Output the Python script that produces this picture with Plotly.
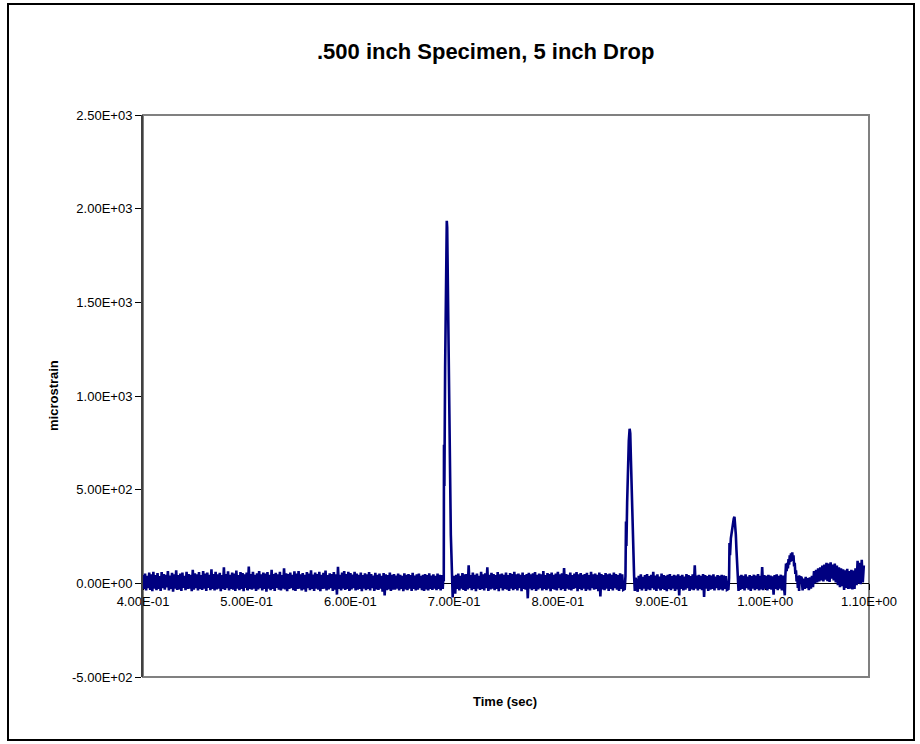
import plotly.graph_objects as go

# ---------------- data ----------------
noise_step = 0.001

noise_a_start = 0.400
noise_a = [45, -30, 52, -38, 40, -25, 58, -35, 48, -42,
           62, -28, 44, -36, 55, -30, 38, -40, 60, -26,
           50, -34, 46, -22, 65, -38, 42, -30, 56, -45,
           48, -28, 70, -35, 44, -32, 52, -40, 58, -24,
           40, -36, 62, -30, 50, -28, 46, -42, 72, -34,
           54, -26, 48, -38, 60, -30, 44, -35, 66, -28,
           52, -40, 58, -25, 45, -36, 75, -30, 50, -38,
           62, -32, 48, -28, 56, -42, 44, -30, 85, -35,
           50, -26, 64, -38, 46, -30, 58, -34, 52, -40,
           68, -28, 44, -36, 60, -30, 55, -42, 48, -25,
           57, -38, 90, -30, 50, -34, 62, -28, 46, -40,
           54, -32, 66, -26, 48, -38, 58, -30, 52, -44,
           60, -28, 45, -36, 72, -30, 50, -40, 56, -25,
           48, -34, 62, -38, 44, -28, 80, -32, 54, -42,
           50, -30, 58, -26, 46, -36, 64, -40, 52, -30,
           66, -28, 48, -38, 55, -32, 45, -44, 60, -26,
           52, -36, 70, -30, 47, -40, 58, -28, 50, -34,
           62, -42, 46, -30, 56, -28, 68, -38, 44, -32,
           54, -26, 50, -40, 60, -34, 48, -60, 88, -30,
           45, -38, 58, -28, 66, -35, 50, -30, 62, -40,
           55, -32, 47, -26, 62, -38, 52, -34, 46, -30,
           58, -42, 44, -28, 54, -36, 48, -30, 60, -38,
           50, -26, 42, -40, 56, -32, 46, -35, 52, -28,
           40, -44, 55, -65, 48, -36, 44, -32, 58, -40,
           46, -34, 50, -34, 42, -28, 52, -38, 45, -30,
           40, -42, 54, -32, 46, -36, 50, -28, 44, -40,
           56, -30, 42, -38, 48, -34, 52, -26, 40, -36,
           46, -40, 50, -32, 44, -38, 54, -30, 42, -35,
           48, -28, 40, -36, 52, -30, 45, -38, 44]

peak1_t = [0.6890, 0.6896, 0.6900, 0.6902, 0.6906, 0.6913, 0.6919, 0.6925, 0.6929, 0.6933, 0.6938,
           0.6944, 0.6950, 0.6956, 0.6962, 0.6968, 0.6974, 0.6980, 0.6986, 0.6992, 0.6998, 0.7004]
peak1_v = [-30, 35, 10, 740, 520, 1150, 1600, 1860, 1935, 1900, 1650,
           1250, 850, 550, 380, 260, 150, 20, -75, 35, -45, 40]

noise_b_start = 0.701
noise_b = [-55, 45, -30, 52, -38, 40, -28, 55, -35, 48,
           -40, 50, -32, 96, -26, 44, -36, 58, -30, 46,
           -42, 52, -28, 40, -35, 62, -30, 48, -38, 54,
           -26, 85, -40, 46, -32, 56, -28, 50, -36, 44,
           -30, 60, -42, 48, -26, 52, -38, 46, -30, 58,
           -34, 44, -40, 55, -28, 50, -36, 62, -30, 48,
           -38, 52, -26, 46, -42, 58, -30, 44, -34, 50,
           -80, 56, -28, 48, -36, 54, -30, 60, -40, 46,
           -32, 52, -26, 48, -38, 66, -30, 44, -36, 55,
           -28, 50, -42, 58, -30, 46, -34, 52, -38, 62,
           -26, 48, -36, 54, -30, 82, -40, 50, -28, 46,
           -34, 58, -38, 44, -30, 52, -26, 60, -42, 48,
           -30, 55, -36, 46, -28, 50, -40, 56, -32, 44,
           -38, 62, -26, 48, -34, 52, -30, 46, -42, 58,
           -70, 50, -32, 44, -36, 55, -28, 48, -40, 52,
           -30, 46, -38, 58, -26, 50, -34, 44, -40, 54,
           -30, 48, -35]

peak2_t = [0.8645, 0.8652, 0.8657, 0.8661, 0.8668, 0.8676, 0.8684, 0.8692, 0.8698, 0.8705,
           0.8712, 0.8720, 0.8728, 0.8735, 0.8742, 0.8750]
peak2_v = [-30, 40, 330, 200, 430, 620, 760, 825, 800, 650,
           480, 300, 150, 40, -40, 30]

noise_c_start = 0.877
noise_c = [-45, 40, -30, 48, -38, 35, -28, 44, -40, 50,
           -32, 38, -36, 46, -26, 62, -34, 42, -40, 48,
           -28, 36, -38, 52, -30, 44, -35, 40, -42, 46,
           -30, 50, -36, 38, -28, 45, -40, 42, -32, 48,
           -64, 40, -30, 46, -38, 36, -34, 50, -26, 44,
           -40, 38, -32, 48, -36, 96, -28, 42, -38, 46,
           -30, 40, -36, 50, -72, 44, -28, 38, -40, 46,
           -34, 42, -30, 48, -38, 36, -26, 44, -36, 40,
           -32, 46, -38, 42, -30, 38, -35]

peak3_t = [0.9645, 0.9651, 0.9655, 0.9660, 0.9668, 0.9678, 0.9688, 0.9696, 0.9703, 0.9710,
           0.9716, 0.9722, 0.9728, 0.9735, 0.9742, 0.9750, 0.9758]
peak3_v = [-30, 30, 215, 150, 240, 290, 320, 345, 355, 320,
           260, 180, 100, 30, -40, 40, -35]

noise_d_start = 0.977
noise_d = [45, -30, 40, -38, 48, -26, 36, -34, 44, -40,
           38, -28, 46, -36, 42, -30, 50, -38, 40, -32,
           87, -36, 44, -28, 40, -38, 46, -30, 42, -34,
           38, -60, 44, -30, 48, -36, 40, -28, 46, -38,
           42]

peak4_t = [1.0188, 1.0194, 1.0200, 1.0206, 1.0212, 1.0218, 1.0224, 1.0230, 1.0236, 1.0242,
           1.0248, 1.0254, 1.0260, 1.0266, 1.0272, 1.0278, 1.0284, 1.0290, 1.0296, 1.0302,
           1.0308, 1.0314, 1.0320, 1.0326, 1.0332]
peak4_v = [-64, 45, 105, 65, 110, 80, 130, 100, 150, 115,
           160, 125, 165, 120, 150, 90, 110, 50, 70, 10,
           40, -25, 30, -40, 35]

noise_e_start = 1.035
noise_e = [30, -38, 25, -30, 35, -25, 28, -36, 32, -28,
           40, -20, 65, 0, 72, 5, 80, 10, 85, 15,
           95, 10, 100, 20, 110, 12, 105, 8, 112, 25,
           100, 15, 105, 5, 95, -10, 85, -20, 80, -15,
           75, -35, 70, -25, 78, -30, 65, -28, 72, -32,
           68, -30, 80, -10, 120, 0, 110, -5, 125, 5,
           95]

x_tick_vals = [0.4, 0.5, 0.6, 0.7, 0.8, 0.9, 1.0, 1.1]
x_tick_text = ["4.00E-01", "5.00E-01", "6.00E-01", "7.00E-01", "8.00E-01", "9.00E-01", "1.00E+00", "1.10E+00"]
y_tick_vals = [-500, 0, 500, 1000, 1500, 2000, 2500]
y_tick_text = ["-5.00E+02", "0.00E+00", "5.00E+02", "1.00E+03", "1.50E+03", "2.00E+03", "2.50E+03"]

title_text = ".500 inch Specimen, 5 inch Drop"
x_title = "Time (sec)"
y_title = "microstrain"

# ---------------- assemble series ----------------
def seg(start, vals):
    return [round(start + i * noise_step, 4) for i in range(len(vals))], list(vals)

t_all, v_all = [], []
for part in [seg(noise_a_start, noise_a), (peak1_t, peak1_v),
             seg(noise_b_start, noise_b), (peak2_t, peak2_v),
             seg(noise_c_start, noise_c), (peak3_t, peak3_v),
             seg(noise_d_start, noise_d), (peak4_t, peak4_v),
             seg(noise_e_start, noise_e)]:
    t_all += part[0]
    v_all += part[1]

# ---------------- layout geometry (pixels) ----------------
W, H = 920, 744
L, R, T, B = 143, 869, 115, 677
pw, ph = R - L, B - T

def px(x):
    return (x - L) / pw

def py(y):
    return (B - y) / ph

FONT = "Arial, 'Liberation Sans', sans-serif"

fig = go.Figure()
fig.add_trace(go.Scatter(x=t_all, y=v_all, mode="lines",
                         line=dict(color="#000080", width=2.6), hoverinfo="skip",
                         showlegend=False))

fig.update_layout(
    width=W, height=H,
    margin=dict(l=L, r=W - R, t=T, b=H - B, pad=0),
    paper_bgcolor="white", plot_bgcolor="white",
    font=dict(family=FONT, size=13, color="black"),
    xaxis=dict(range=[0.4, 1.1], tickvals=x_tick_vals, ticktext=x_tick_text,
               anchor="free", position=500 / 3000,
               showline=True, linecolor="black", linewidth=1,
               ticks="outside", ticklen=6, tickcolor="black", tickwidth=1,
               showgrid=False, zeroline=False, layer="below traces",
               tickfont=dict(family=FONT, size=13, color="black")),
    yaxis=dict(range=[-500, 2500], tickvals=y_tick_vals, ticktext=y_tick_text,
               showline=True, linecolor="#404040", linewidth=2,
               ticks="outside", ticklen=6, tickcolor="black", tickwidth=1,
               showgrid=False, zeroline=False,
               tickfont=dict(family=FONT, size=13, color="black")),
    shapes=[
        dict(type="rect", xref="paper", yref="paper", x0=0, y0=0, x1=1, y1=1,
             line=dict(color="#808080", width=2), layer="below"),
        dict(type="rect", xref="paper", yref="paper",
             x0=px(8), x1=px(914), y0=py(740), y1=py(4),
             line=dict(color="black", width=2), layer="below"),
    ],
    annotations=[
        dict(text="<b>" + title_text + "</b>", xref="paper", yref="paper",
             x=px(485), y=py(52), xanchor="center", yanchor="middle", showarrow=False,
             font=dict(family=FONT, size=22, color="black")),
        dict(text="<b>" + x_title + "</b>", xref="paper", yref="paper",
             x=px(505), y=py(701), xanchor="center", yanchor="middle", showarrow=False,
             font=dict(family=FONT, size=13, color="black")),
        dict(text="<b>" + y_title + "</b>", xref="paper", yref="paper",
             x=px(53), y=py(396), xanchor="center", yanchor="middle", showarrow=False,
             textangle=-90, font=dict(family=FONT, size=13, color="black")),
    ],
)

fig.write_html("out.html")
